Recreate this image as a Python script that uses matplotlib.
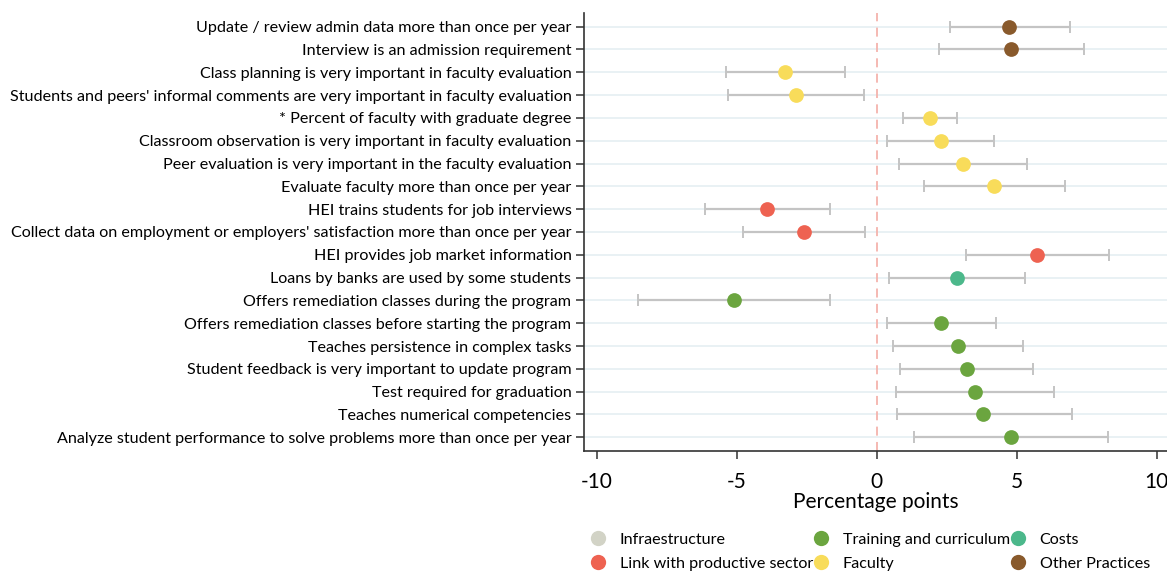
import matplotlib.pyplot as plt
from matplotlib.lines import Line2D

plt.rcParams['font.family'] = ['Lato', 'DejaVu Sans']

labels = [
    "Update / review admin data more than once per year",
    "Interview is an admission requirement",
    "Class planning is very important in faculty evaluation",
    "Students and peers' informal comments are very important in faculty evaluation",
    "* Percent of faculty with graduate degree",
    "Classroom observation is very important in faculty evaluation",
    "Peer evaluation is very important in the faculty evaluation",
    "Evaluate faculty more than once per year",
    "HEI trains students for job interviews",
    "Collect data on employment or employers' satisfaction more than once per year",
    "HEI provides job market information",
    "Loans by banks are used by some students",
    "Offers remediation classes during the program",
    "Offers remediation classes before starting the program",
    "Teaches persistence in complex tasks",
    "Student feedback is very important to update program",
    "Test required for graduation",
    "Teaches numerical competencies",
    "Analyze student performance to solve problems more than once per year",
]
estimate = [4.74, 4.80, -3.28, -2.90, 1.90, 2.28, 3.07, 4.20, -3.91, -2.60,
            5.74, 2.85, -5.12, 2.28, 2.91, 3.21, 3.49, 3.81, 4.78]
ci_low = [2.60, 2.21, -5.41, -5.32, 0.92, 0.37, 0.80, 1.67, -6.16, -4.77,
          3.20, 0.42, -8.54, 0.36, 0.57, 0.84, 0.67, 0.72, 1.31]
ci_high = [6.89, 7.40, -1.15, -0.45, 2.87, 4.20, 5.38, 6.73, -1.68, -0.42,
           8.31, 5.28, -1.69, 4.24, 5.23, 5.58, 6.33, 6.96, 8.26]
group = ["Other Practices", "Other Practices", "Faculty", "Faculty", "Faculty",
         "Faculty", "Faculty", "Faculty", "Link with productive sector",
         "Link with productive sector", "Link with productive sector", "Costs",
         "Training and curriculum", "Training and curriculum",
         "Training and curriculum", "Training and curriculum",
         "Training and curriculum", "Training and curriculum",
         "Training and curriculum"]

colors = {
    "Infraestructure": "#d2d3c6",
    "Link with productive sector": "#ee6251",
    "Training and curriculum": "#6ba53f",
    "Faculty": "#f8dc5a",
    "Costs": "#4cb88b",
    "Other Practices": "#895a2c",
}
legend_order = ["Infraestructure", "Link with productive sector",
                "Training and curriculum", "Faculty", "Costs", "Other Practices"]

fig = plt.figure(figsize=(11.67, 5.75), dpi=100)
ax = fig.add_axes([0.5004, 0.2157, 0.4996, 0.7617])

rows = list(range(1, len(labels) + 1))

for y in rows:
    ax.axhline(y, color="#e9f1f4", lw=1.4, zorder=0)
ax.axvline(0, color="#f5b3ad", lw=1.3, ls=(0, (5, 3.5)), zorder=1)

for y, est, lo, hi, g in zip(rows, estimate, ci_low, ci_high, group):
    ax.errorbar(est, y, xerr=[[est - lo], [hi - est]], fmt="none",
                ecolor="#c4c4c4", elinewidth=1.6, capsize=4, capthick=1.4,
                zorder=2)
    ax.plot(est, y, "o", ms=10.6, color=colors[g], mec="none", zorder=3)

ax.set_xlim(-10.47, 10.37)
ax.set_ylim(19.6, 0.4)
ax.set_yticks(rows)
ax.set_yticklabels(labels, fontsize=11.6)
ax.set_xticks([-10, -5, 0, 5, 10])
ax.set_xticklabels(["-10", "-5", "0", "5", "10"], fontsize=15)
ax.set_xlabel("Percentage points", fontsize=15, labelpad=0)
ax.tick_params(axis="both", length=6, width=1.1, color="#333333")
ax.tick_params(axis="x", pad=9)
ax.tick_params(axis="y", pad=3)
for side in ["top", "right"]:
    ax.spines[side].set_visible(False)
for side in ["left", "bottom"]:
    ax.spines[side].set_linewidth(1.2)
    ax.spines[side].set_color("#333333")

handles = [Line2D([], [], ls="none", marker="o", ms=11, mec="none",
                  color=colors[k], label=k) for k in legend_order]
fig.legend(handles=handles, loc="upper left", bbox_to_anchor=(0.5, 0.085),
           ncol=3, frameon=False, fontsize=11.6, handlelength=1.0,
           handletextpad=0.85, columnspacing=0.0, labelspacing=0.6,
           borderaxespad=0)

fig.savefig("out.png", dpi=100)
